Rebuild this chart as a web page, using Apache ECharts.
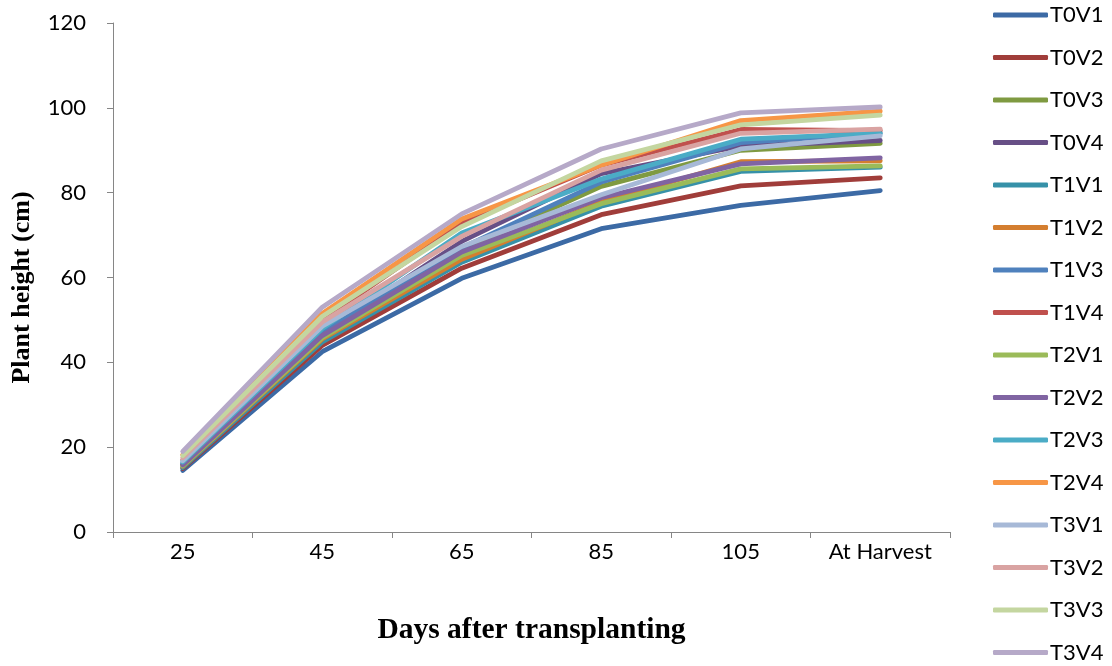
<!DOCTYPE html>
<html><head><meta charset="utf-8">
<script src="https://cdn.jsdelivr.net/npm/echarts@6/dist/echarts.min.js"></script>
<style>html,body{margin:0;padding:0;background:#fff}#c{width:1112px;height:666px}</style>
</head><body><div id="c"></div>
<script>
const categories = ['25','45','65','85','105','At Harvest'];
const yTicks = [0,20,40,60,80,100,120];
const names = ['T0V1','T0V2','T0V3','T0V4','T1V1','T1V2','T1V3','T1V4','T2V1','T2V2','T2V3','T2V4','T3V1','T3V2','T3V3','T3V4'];
const colors = ['#3C6AA5','#A03D3A','#7F9A41','#674F86','#3691A8','#D47E2F','#4F81BD','#C0504D','#9BBB59','#8064A2','#4BACC6','#F79646','#A7B9D7','#D9A3A2','#C4D6A0','#B6A9C8'];
const T0V1 = [14.5, 42.5, 59.8, 71.5, 77.0, 80.5];
const T0V2 = [15.0, 44.0, 62.2, 74.8, 81.6, 83.5];
const T0V3 = [15.8, 46.0, 66.5, 81.5, 90.0, 91.6];
const T0V4 = [16.0, 46.8, 68.5, 84.5, 91.0, 92.3];
const T1V1 = [15.2, 44.8, 63.6, 76.8, 85.0, 86.0];
const T1V2 = [15.5, 45.5, 64.3, 77.8, 87.3, 87.5];
const T1V3 = [16.2, 47.0, 67.0, 82.5, 91.8, 94.0];
const T1V4 = [17.0, 50.0, 72.8, 86.5, 94.9, 94.6];
const T2V1 = [15.6, 45.8, 65.2, 77.4, 85.6, 86.3];
const T2V2 = [15.8, 46.3, 66.0, 78.8, 86.8, 88.2];
const T2V3 = [16.5, 48.0, 70.5, 83.2, 92.6, 94.0];
const T2V4 = [18.2, 51.5, 73.8, 86.5, 97.0, 99.2];
const T3V1 = [16.8, 48.5, 67.3, 79.5, 90.3, 93.4];
const T3V2 = [17.5, 49.5, 69.7, 85.3, 94.0, 95.0];
const T3V3 = [18.0, 50.8, 72.0, 87.5, 96.0, 98.3];
const T3V4 = [19.0, 53.0, 75.0, 90.3, 98.8, 100.2];
const values = [T0V1,T0V2,T0V3,T0V4,T1V1,T1V2,T1V3,T1V4,T2V1,T2V2,T2V3,T2V4,T3V1,T3V2,T3V3,T3V4];

const chart = echarts.init(document.getElementById('c'), null, {renderer:'canvas'});
const axisLine = {show:true, lineStyle:{color:'#868686', width:1}};
const font = 'Lato, "Open Sans", sans-serif';
chart.setOption({
  animation:false,
  color: colors,
  grid:{left:113, right:162, top:23, bottom:134},
  legend:{
    orient:'vertical', left:993, top:4, height:700, padding:0,
    itemWidth:55, itemHeight:5, itemGap:20.5,
    icon:'roundRect',
    textStyle:{fontFamily:font, fontSize:22, color:'#000', lineHeight:22, padding:[0,0,0,-3]},
    data: names
  },
  xAxis:{
    type:'category', data:categories, boundaryGap:true,
    axisLine:axisLine,
    axisTick:{show:true, length:6, lineStyle:{color:'#868686'}},
    axisLabel:{fontFamily:font, fontSize:22, color:'#000', margin:9},
    name:'Days after transplanting', nameLocation:'middle', nameGap:83,
    nameTextStyle:{fontFamily:'"Liberation Serif", serif', fontWeight:'bold', fontSize:29.5, color:'#000'}
  },
  yAxis:{
    type:'value', min:yTicks[0], max:yTicks[yTicks.length-1], interval:20,
    axisLine:axisLine,
    axisTick:{show:true, length:6, inside:false, lineStyle:{color:'#868686'}},
    splitLine:{show:false},
    axisLabel:{fontFamily:font, fontSize:22, color:'#000', margin:27},
    name:'Plant height (cm)', nameLocation:'middle', nameGap:78, nameRotate:90,
    nameTextStyle:{fontFamily:'"Liberation Serif", serif', fontWeight:'bold', fontSize:26, color:'#000', padding:[0,20,0,0]}
  },
  series: names.map((n,i)=>({
    name:n, type:'line', data:values[i], symbol:'none',
    lineStyle:{width:4.8, color:colors[i], cap:'round', join:'round'},
    itemStyle:{color:colors[i]}
  }))
});
</script></body></html>
